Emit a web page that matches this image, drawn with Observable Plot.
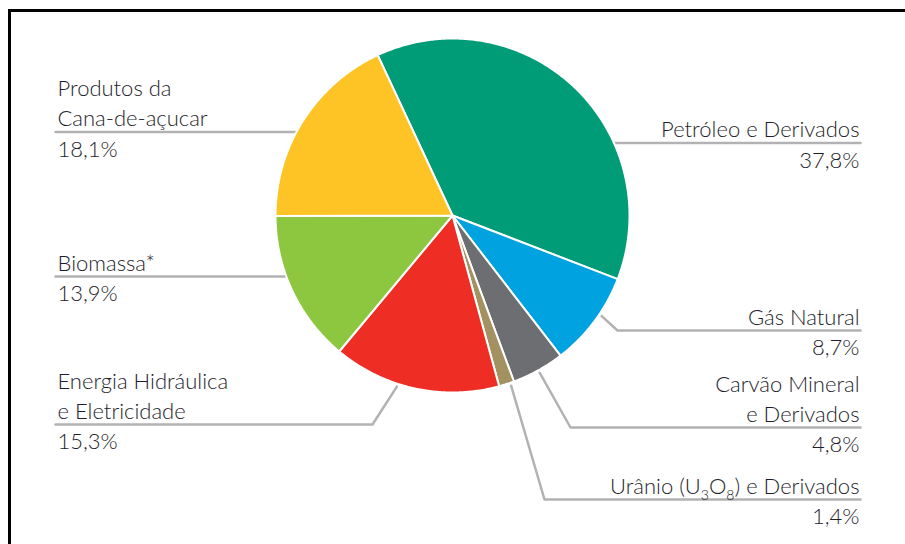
<!DOCTYPE html>
<html>
<head>
<meta charset="utf-8">
<script src="https://cdn.jsdelivr.net/npm/d3@7"></script>
<script src="https://cdn.jsdelivr.net/npm/@observablehq/plot@0.6"></script>
<style>
  html, body { margin: 0; padding: 0; background: #fff; }
  #wrap { position: relative; width: 905px; height: 544px; overflow: hidden; }
  #frame { position: absolute; left: 8px; top: 9px; right: -10px; bottom: -10px;
           border-top: 3px solid #000; border-left: 3px solid #000; pointer-events: none; }
  #chart svg { display: block; }
</style>
</head>
<body>
<div id="wrap"><div id="chart"></div><div id="frame"></div></div>
<script>
// ---- data ----
const sources = ["Petróleo e Derivados", "Gás Natural", "Carvão Mineral e Derivados",
  "Urânio (U3O8) e Derivados", "Energia Hidráulica e Eletricidade", "Biomassa*",
  "Produtos da Cana-de-açucar"];
const shares = [37.8, 8.7, 4.8, 1.4, 15.3, 13.9, 18.1];
const labelLines = [
  ["Petróleo e Derivados"],
  ["Gás Natural"],
  ["Carvão Mineral", "e Derivados"],
  ["Urânio (U₃O₈) e Derivados"],
  ["Energia Hidráulica", "e Eletricidade"],
  ["Biomassa*"],
  ["Produtos da", "Cana-de-açucar"]
];
const pctLabels = ["37,8%", "8,7%", "4,8%", "1,4%", "15,3%", "13,9%", "18,1%"];
const colors = ["#009b77", "#00a3e0", "#6d6e71", "#a39161", "#ee2e24", "#8dc63f", "#fec325"];

// ---- layout (positions / styles) ----
const W = 905, H = 544;
const cx = 452, cy = 215, R = 177;
const startDeg = -25;
const leftX = 55, rightX = 860, textLeftX = 57, textRightX = 859;
const labelLayout = [
  {side: "right", leaderY: 142.5, elbowX: null, touch: null},
  {side: "right", leaderY: 330, elbowX: 617, touch: 124},
  {side: "right", leaderY: 427, elbowX: 570, touch: 151},
  {side: "right", leaderY: 499, elbowX: 544, touch: 161},
  {side: "left", leaderY: 424, elbowX: 372, touch: 198},
  {side: "left", leaderY: 276, elbowX: null, touch: null},
  {side: "left", leaderY: 131.5, elbowX: null, touch: null}
];

// ---- slices as polygons derived from the shares ----
const total = d3.sum(shares);
const toRad = d => (d * Math.PI) / 180;
const polar = (deg, r) => [cx + r * Math.sin(toRad(deg)), cy - r * Math.cos(toRad(deg))];
const slicePts = [];
let acc = startDeg;
shares.forEach((v, i) => {
  const a0 = acc, a1 = acc + (v / total) * 360;
  acc = a1;
  slicePts.push({k: sources[i], x: cx, y: cy});
  const steps = Math.max(2, Math.ceil((a1 - a0) / 0.5));
  for (let s = 0; s <= steps; s++) {
    const [x, y] = polar(a0 + ((a1 - a0) * s) / steps, R);
    slicePts.push({k: sources[i], x, y});
  }
  slicePts.push({k: sources[i], x: cx, y: cy});
});

// ---- leader lines ----
const leaderPts = [];
labelLayout.forEach((L, i) => {
  const endX = L.side === "right" ? rightX : leftX;
  if (L.elbowX == null) {
    const dy = L.leaderY - cy;
    const dx = Math.sqrt(R * R - dy * dy);
    const edgeX = L.side === "right" ? cx + dx - 2 : cx - dx + 2;
    leaderPts.push({k: i, x: edgeX, y: L.leaderY}, {k: i, x: endX, y: L.leaderY});
  } else {
    const [tx, ty] = polar(L.touch, R + 3);
    leaderPts.push({k: i, x: tx, y: ty}, {k: i, x: L.elbowX, y: L.leaderY}, {k: i, x: endX, y: L.leaderY});
  }
});

// ---- text rows ----
const nameRows = labelLayout.map((L, i) => ({
  text: labelLines[i].join("\n"),
  x: L.side === "right" ? textRightX : textLeftX,
  y: L.leaderY - 6,
  anchor: L.side === "right" ? "end" : "start"
}));
const pctRows = labelLayout.map((L, i) => ({
  text: pctLabels[i],
  x: L.side === "right" ? textRightX : textLeftX,
  y: L.leaderY + 24.5,
  anchor: L.side === "right" ? "end" : "start"
}));

const textOpts = {fontSize: 22, fontWeight: 300, fill: "#1e1e2a", lineAnchor: "bottom", lineHeight: 30 / 22, fontFamily: "Lato"};

const chart = Plot.plot({
  width: W, height: H,
  margin: 0,
  x: {domain: [0, W], range: [0, W], axis: null},
  y: {domain: [0, H], range: [0, H], axis: null},
  color: {domain: sources, range: colors},
  style: {fontFamily: "Lato", background: "transparent"},
  marks: [
    Plot.line(leaderPts, {x: "x", y: "y", z: "k", stroke: "#b2b2b4", strokeWidth: 2.5, curve: "linear"}),
    Plot.line(slicePts, {x: "x", y: "y", z: "k", fill: "k", stroke: "white", strokeWidth: 2, strokeLinejoin: "round", curve: "linear"}),
    Plot.text(nameRows.filter(d => d.anchor === "start"), {...textOpts, x: "x", y: "y", text: "text", textAnchor: "start"}),
    Plot.text(nameRows.filter(d => d.anchor === "end"), {...textOpts, x: "x", y: "y", text: "text", textAnchor: "end"}),
    Plot.text(pctRows.filter(d => d.anchor === "start"), {...textOpts, x: "x", y: "y", text: "text", textAnchor: "start"}),
    Plot.text(pctRows.filter(d => d.anchor === "end"), {...textOpts, x: "x", y: "y", text: "text", textAnchor: "end"})
  ]
});
document.getElementById("chart").appendChild(chart);

// render the chemical formula with real subscripts
chart.querySelectorAll("text").forEach(t => {
  if (t.children.length === 0 && t.textContent.includes("₃")) {
    const NS = "http://www.w3.org/2000/svg";
    const parts = [["Urânio (U", 0, null], ["3", 6, 14], ["O", -6, null], ["8", 6, 14], [") e Derivados", -6, null]];
    t.textContent = "";
    parts.forEach(([s, dy, fs]) => {
      const ts = document.createElementNS(NS, "tspan");
      ts.textContent = s;
      if (dy) ts.setAttribute("dy", dy);
      if (fs) ts.setAttribute("font-size", fs);
      t.appendChild(ts);
    });
  }
});
</script>
</body>
</html>
